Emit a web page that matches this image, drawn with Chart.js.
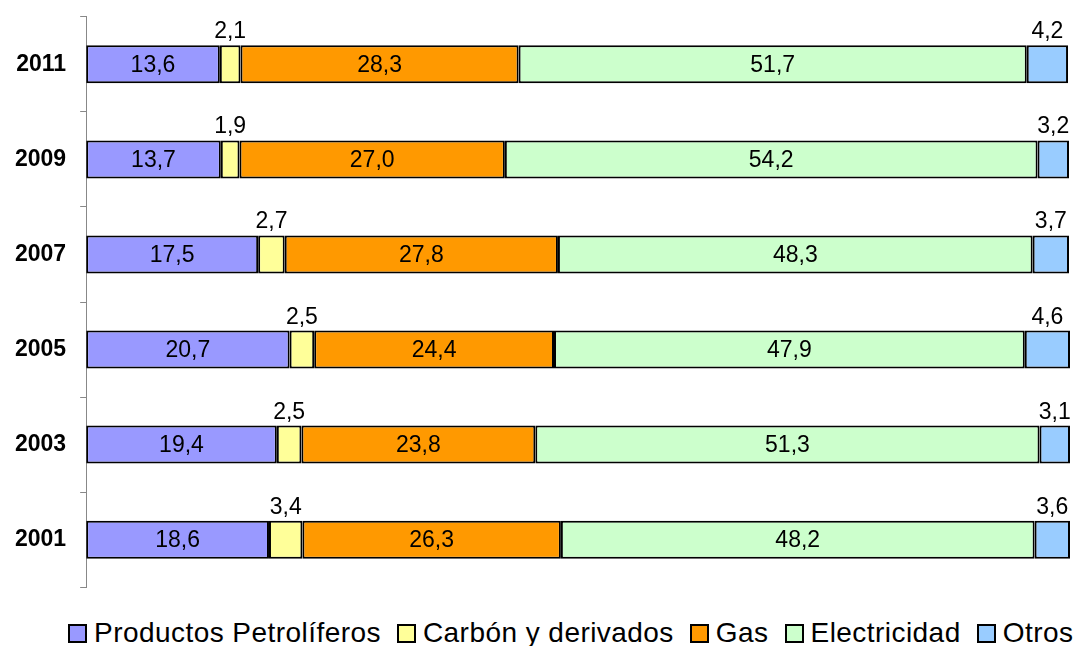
<!DOCTYPE html>
<html>
<head>
<meta charset="utf-8">
<script src="https://cdn.jsdelivr.net/npm/chart.js@4"></script>
<style>
  body { margin: 0; background: #fff; overflow: hidden; }
  #wrap { width: 1075px; height: 646px; position: relative; overflow: hidden; }
  #chartBox { position: absolute; left: 0; top: -11px; width: 1075px; height: 626px; }
  #legend {
    position: absolute; left: 68px; top: 616px; white-space: nowrap;
    font-family: "Liberation Sans", Arial, sans-serif; font-size: 28px;
    letter-spacing: 0.45px; color: #000; line-height: 34px;
  }
  #legend span.item { display: inline-block; margin-right: 16px; }
  #legend span.box {
    display: inline-block; width: 15px; height: 15px; border: 2px solid #000;
    margin-right: 7px; vertical-align: -1px;
  }
</style>
</head>
<body>
<div id="wrap">
  <div id="chartBox"><canvas id="myChart"></canvas></div>
  <div id="legend"></div>
</div>
<script>
// years, top to bottom
let years = ['2011', '2009', '2007', '2005', '2003', '2001'];
let petroliferos = [13.6, 13.7, 17.5, 20.7, 19.4, 18.6];
let carbon = [2.1, 1.9, 2.7, 2.5, 2.5, 3.4];
let gas = [28.3, 27.0, 27.8, 24.4, 23.8, 26.3];
let electricidad = [51.7, 54.2, 48.3, 47.9, 51.3, 48.2];
let otros = [4.2, 3.2, 3.7, 4.6, 3.1, 3.6];

// which series get their label above the bar
let labelAbove = [false, true, false, false, true];

const fontName = '"Liberation Sans", Arial, sans-serif';

const valueLabels = {
    id: 'valueLabels',
    afterDatasetsDraw(chart) {
        const c = chart.ctx;
        c.save();
        c.font = '23px ' + fontName;
        c.fillStyle = '#000';
        c.textAlign = 'center';
        chart.data.datasets.forEach((ds, di) => {
            const meta = chart.getDatasetMeta(di);
            meta.data.forEach((bar, i) => {
                const txt = ds.data[i].toFixed(1).replace('.', ',');
                const x = (bar.x + bar.base) / 2;
                if (labelAbove[di]) {
                    c.textBaseline = 'alphabetic';
                    c.fillText(txt, x, bar.y - bar.height / 2 - 7);
                } else {
                    c.textBaseline = 'middle';
                    c.fillText(txt, x, bar.y + 1);
                }
            });
        });
        c.restore();
    }
};

const ctx = document.getElementById('myChart');

var chart = new Chart(ctx, {
    type: 'bar',
    data: {
        labels: years,
        datasets: [
            { label: 'Productos Petrolíferos', data: petroliferos, backgroundColor: '#9999FF' },
            { label: 'Carbón y derivados', data: carbon, backgroundColor: '#FFFF99' },
            { label: 'Gas', data: gas, backgroundColor: '#FF9900' },
            { label: 'Electricidad', data: electricidad, backgroundColor: '#CCFFCC' },
            { label: 'Otros', data: otros, backgroundColor: '#99CCFF' }
        ].map(d => Object.assign(d, {
            borderColor: '#000',
            borderWidth: 2,
            borderSkipped: false,
            categoryPercentage: 0.4,
            barPercentage: 1
        }))
    },
    options: {
        indexAxis: 'y',
        responsive: true,
        maintainAspectRatio: false,
        animation: false,
        layout: { padding: { left: 1, right: 5, top: 5, bottom: 0 } },
        scales: {
            x: {
                stacked: true,
                min: 0,
                max: 100.1,
                display: false
            },
            y: {
                stacked: true,
                offset: true,
                border: { color: '#888', width: 1 },
                grid: { offset: true, drawOnChartArea: false, tickLength: 6, color: '#888' },
                ticks: {
                    color: '#000',
                    padding: 14,
                    font: { family: fontName, size: 23, weight: 'bold' }
                }
            }
        },
        plugins: {
            tooltip: { enabled: false },
            legend: { display: false }
        }
    },
    plugins: [valueLabels]
});

// legend built from the datasets
const legendEl = document.getElementById('legend');
chart.data.datasets.forEach(ds => {
    const item = document.createElement('span');
    item.className = 'item';
    const box = document.createElement('span');
    box.className = 'box';
    box.style.background = ds.backgroundColor;
    item.appendChild(box);
    item.appendChild(document.createTextNode(ds.label));
    legendEl.appendChild(item);
});
</script>
</body>
</html>
